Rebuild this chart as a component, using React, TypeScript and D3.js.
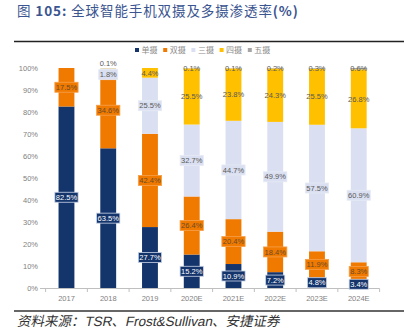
import React from "react";
import * as d3 from "d3";

const categories = ["2017", "2018", "2019", "2020E", "2021E", "2022E", "2023E", "2024E"];
const seriesNames = ["单摄", "双摄", "三摄", "四摄", "五摄"];
const single = [82.5, 63.5, 27.7, 15.2, 10.9, 7.2, 4.8, 3.4];
const dual = [17.5, 34.6, 42.4, 26.4, 20.4, 18.4, 11.9, 8.3];
const triple = [0, 1.8, 25.5, 32.7, 44.7, 49.9, 57.5, 60.9];
const quad = [0, 0.1, 4.4, 25.5, 23.8, 24.3, 25.5, 26.8];
const penta = [0, 0, 0, 0.1, 0.1, 0.2, 0.3, 0.6];
const yTicks = [0, 10, 20, 30, 40, 50, 60, 70, 80, 90, 100];

const colors = ["#14346C", "#F07A00", "#DAE0F1", "#FFC000", "#A5A5A5"];
const boxFill = ["#14346C", "#F07A00", "#DAE0F1", null, null];
const boxStroke = ["#C9D3E6", "#F5A04A", "#E6EAF5", null, null];
const textFill = ["#FFFFFF", "#6A4A2A", "#595959", "#595959", "#595959"];

const W = 404, H = 330;
const FONT = "'Liberation Sans', Arial, sans-serif";
const CJK = "'Noto Sans CJK SC', sans-serif";

function textW(s: string, fs: number) {
  let w = 0;
  for (const c of s) {
    if (c === ".") w += 0.278;
    else if (c === "%") w += 0.889;
    else w += 0.556;
  }
  return w * fs;
}

export default function App() {
  const x = d3.scaleBand<string>().domain(categories).range([45.6, 379.6]).paddingInner(0.62).paddingOuter(0.31);
  const y = d3.scaleLinear().domain([0, 100]).range([288, 68]);
  const data = categories.map((c, i) => {
    const o: any = { cat: c };
    seriesNames.forEach((s, k) => (o[s] = [single, dual, triple, quad, penta][k][i]));
    return o;
  });
  const stack = d3.stack<any>().keys(seriesNames)(data);
  const step = x.step();
  const left = 45.6;

  const labels: any[] = [];
  categories.forEach((c, i) => {
    const list: any[] = [];
    stack.forEach((layer, k) => {
      const v = [single, dual, triple, quad, penta][k][i];
      if (v <= 0) return;
      const [a, b] = layer[i];
      list.push({ k, i, v, cx: x(c)! + x.bandwidth() / 2, cy: (y(a) + y(b)) / 2 });
    });
    list.sort((p, q) => q.cy - p.cy);
    for (let j = 1; j < list.length; j++) {
      const lower = list[j - 1], upper = list[j];
      const gap = lower.cy - upper.cy;
      if (gap < 11) {
        const mid = (lower.cy + upper.cy) / 2;
        lower.cy = mid + 5.5;
        upper.cy = mid - 5.5;
      }
    }
    labels.push(...list);
  });

  const fs = 7.5;
  return (
    <svg width={W} height={H} style={{ position: "absolute", left: 0, top: 0, background: "#fff" }}>
      <text x={17} y={15.5} fontFamily={CJK} fontSize={13.5} letterSpacing={0.9} fill="#3A5590">
        <tspan>图 </tspan>
        <tspan fontWeight="bold">105: </tspan>
        <tspan>全球智能手机双摄及多摄渗透率</tspan>
        <tspan fontWeight="bold">(%)</tspan>
      </text>
      <line x1={14} x2={404} y1={41.5} y2={41.5} stroke="#222" strokeWidth={1.5} />

      {seriesNames.map((s, k) => (
        <g key={s} transform={`translate(${135 + k * 28.2},50)`}>
          <rect x={0} y={-2} width={4} height={4} fill={colors[k]} />
          <text x={6.5} y={3} fontFamily={CJK} fontSize={8} fill="#8C8C8C">{s}</text>
        </g>
      ))}

      {yTicks.map((t) => (
        <text key={t} x={38} y={y(t) + 2.7} textAnchor="end" fontFamily={FONT} fontSize={fs} fill="#7F7F7F">
          {t}%
        </text>
      ))}

      {stack.map((layer, k) => (
        <g key={k}>
          {layer.map((d, i) => (
            <rect key={i} x={x(categories[i])!} width={x.bandwidth()} y={y(d[1])} height={Math.max(0, y(d[0]) - y(d[1]))} fill={colors[k]} />
          ))}
        </g>
      ))}

      <line x1={40} x2={379.6} y1={288.5} y2={288.5} stroke="#BFBFBF" strokeWidth={1} />
      {d3.range(categories.length + 1).map((j) => (
        <line key={j} x1={left + j * step} x2={left + j * step} y1={288.5} y2={292} stroke="#BFBFBF" strokeWidth={1} />
      ))}
      {categories.map((c) => (
        <text key={c} x={x(c)! + x.bandwidth() / 2} y={301} textAnchor="middle" fontFamily={FONT} fontSize={fs} fill="#7F7F7F">
          {c}
        </text>
      ))}

      {labels.map((l, j) => {
        const s = `${l.v.toFixed(1)}%`;
        const w = textW(s, fs) + 2;
        return (
          <g key={j}>
            {boxFill[l.k] && (
              <rect x={l.cx - w / 2} y={l.cy - 5} width={w} height={10} fill={boxFill[l.k]!} stroke={boxStroke[l.k]!} strokeWidth={0.8} />
            )}
            <text x={l.cx} y={l.cy + 2.7} textAnchor="middle" fontFamily={FONT} fontSize={fs} fill={textFill[l.k]}>
              {s}
            </text>
          </g>
        );
      })}

      <line x1={14} x2={404} y1={311} y2={311} stroke="#666" strokeWidth={2} />
      <g transform="translate(17,326) skewX(-12)">
        <text x={0} y={0} fontFamily={CJK} fontSize={13.5} fill="#333">
          <tspan>资料来源：</tspan>
          <tspan fontFamily={FONT}>TSR</tspan>
          <tspan>、</tspan>
          <tspan fontFamily={FONT}>Frost&amp;Sullivan</tspan>
          <tspan>、安捷证券</tspan>
        </text>
      </g>
    </svg>
  );
}
